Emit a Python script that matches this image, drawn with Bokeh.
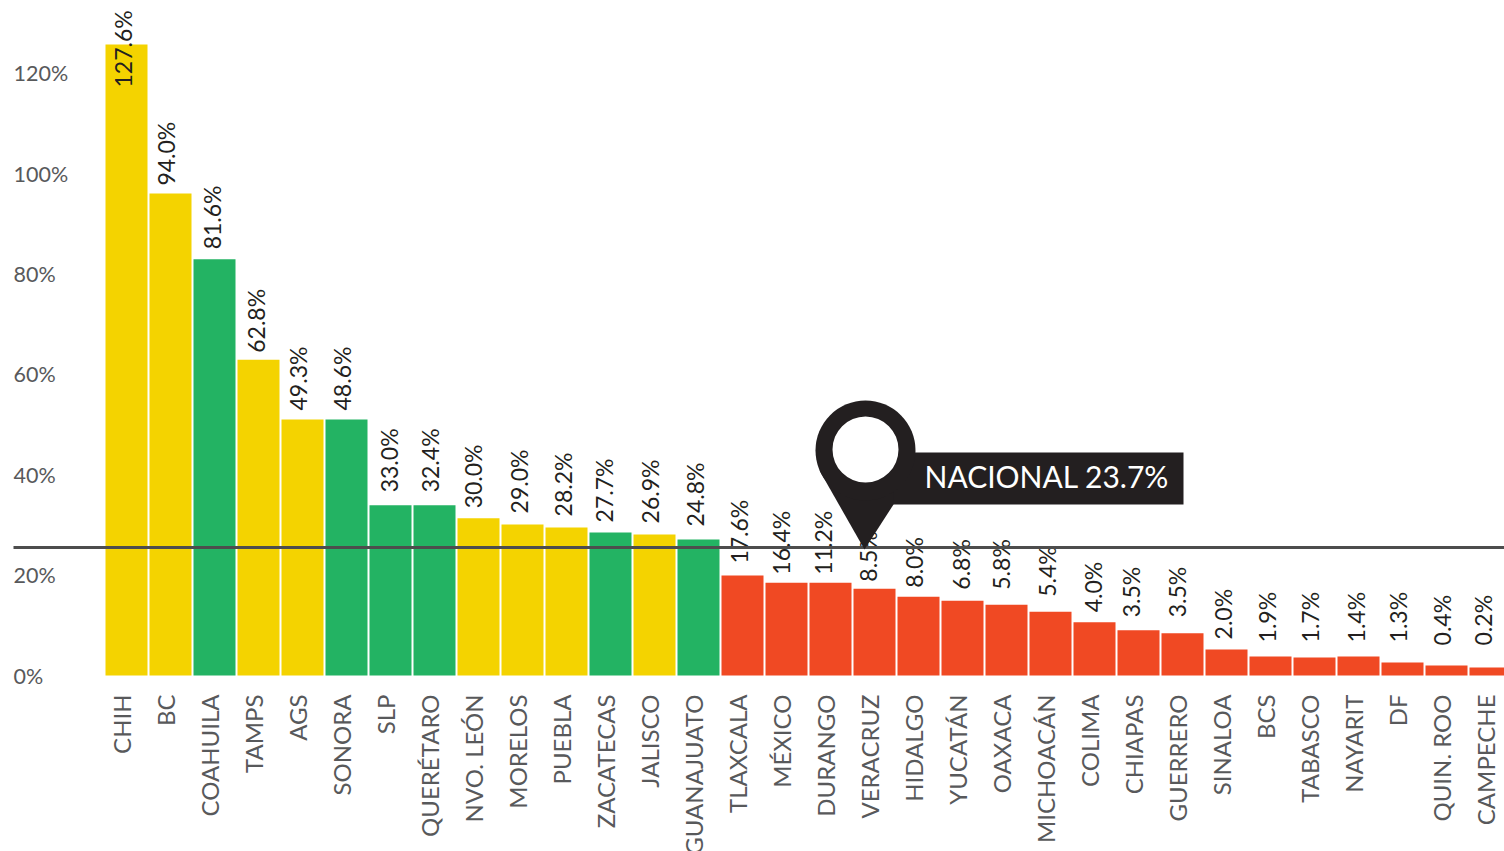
import math
from bokeh.plotting import figure
from bokeh.models import ColumnDataSource, Range1d
from bokeh.core.properties import value
from bokeh.embed import file_html
from bokeh.resources import INLINE

states = ["CHIH","BC","COAHUILA","TAMPS","AGS","SONORA","SLP","QUERÉTARO","NVO. LEÓN","MORELOS","PUEBLA","ZACATECAS","JALISCO","GUANAJUATO","TLAXCALA","MÉXICO","DURANGO","VERACRUZ","HIDALGO","YUCATÁN","OAXACA","MICHOACÁN","COLIMA","CHIAPAS","GUERRERO","SINALOA","BCS","TABASCO","NAYARIT","DF","QUIN. ROO","CAMPECHE"]
bar_values = [125.7,96.0,82.9,62.9,51.0,51.0,33.9,33.9,31.3,30.1,29.5,28.5,28.1,27.1,19.9,18.5,18.5,17.3,15.7,14.9,14.1,12.7,10.6,9.0,8.4,5.2,3.8,3.6,3.8,2.6,2.0,1.6]
value_labels = ["127.6%","94.0%","81.6%","62.8%","49.3%","48.6%","33.0%","32.4%","30.0%","29.0%","28.2%","27.7%","26.9%","24.8%","17.6%","16.4%","11.2%","8.5%","8.0%","6.8%","5.8%","5.4%","4.0%","3.5%","3.5%","2.0%","1.9%","1.7%","1.4%","1.3%","0.4%","0.2%"]
groups = ["y","y","g","y","y","g","g","g","y","y","y","g","y","g"] + ["r"]*18
label_dy = [43,-8,-10,-7,-9,-9,-13,-13,-10,-11,-11,-10,-11,-13,-12,-8,-8,-7,-9,-11,-15,-15,-10,-13,-16,-10,-14,-15,-14,-20,-20,-22]
label_dx = [-2,-3.5,-1.5,-1,-3,-3,0,-3,-4,-2,-2,-5,-3,-2,-2,-4,-6,-5,-3.5,0,-4,-2,0,-6,-4,-2,-2,-3,-1,-3,-3,-6]
y_ticks = [0,20,40,60,80,100,120]
y_tick_labels = ["0%","20%","40%","60%","80%","100%","120%"]
national_level = 25.5
national_text = "NACIONAL 23.7%"

palette = {"y":"#F4D300","g":"#23B363","r":"#F04923"}
FONT = "Lato"
W, H = 1504, 851
PX_X, PX_Y = 44.0, 5.02     # pixels per unit
X0, Y0 = 126.0, 675.0       # canvas position of bar 0 centre / of zero

def dx(page_x): return (page_x - X0) / PX_X
def dy(page_y): return (Y0 - page_y) / PX_Y

p = figure(width=W, height=H, output_backend="svg", toolbar_location=None,
           x_range=Range1d(dx(0), dx(W)), y_range=Range1d(dy(H), dy(0)),
           min_border=0, outline_line_color=None, background_fill_color="white", border_fill_color="white")
p.xaxis.visible = False
p.yaxis.visible = False
p.xgrid.visible = False
p.ygrid.visible = False

xs = list(range(len(states)))
src = ColumnDataSource(dict(x=xs, top=bar_values, color=[palette[g] for g in groups], state=states,
                            vl=value_labels, ldy=label_dy, ldx=[d - 1.5 for d in label_dx], zero=[0]*len(xs)))
p.vbar(x="x", top="top", bottom=0, width=42/PX_X, fill_color="color", line_color=None, source=src)

p.text(x="x", y="top", text="vl", source=src, angle=math.pi/2, text_align="left", text_baseline="middle",
       x_offset="ldx", y_offset="ldy", text_font=value(FONT), text_font_size="23px", text_color="#231F20")
p.text(x="x", y="zero", text="state", source=src, angle=math.pi/2, text_align="right", text_baseline="middle",
       x_offset=-5, y_offset=19, text_font=value(FONT), text_font_size="24px", text_color="#58595B")

tick_src = ColumnDataSource(dict(y=y_ticks, t=y_tick_labels, x=[dx(13)]*len(y_ticks)))
p.text(x="x", y="y", text="t", source=tick_src, text_align="left", text_baseline="middle",
       text_font=value(FONT), text_font_size="21.5px", text_color="#58595B")

p.line([dx(13), dx(1504)], [national_level]*2, line_color="#4D4D4D", line_width=3)

# pin
PIN = "#231F20"
p.quad(left=[dx(885)], right=[dx(1183)], top=[dy(452)], bottom=[dy(504)], fill_color=PIN, line_color=None)
p.patch([dx(819), dx(864), dx(893), dx(893)], [dy(470), dy(549), dy(504), dy(470)], fill_color=PIN, line_color=None)
p.scatter([dx(865)], [dy(450)], size=100, marker="circle", fill_color=PIN, line_color=None)
p.scatter([dx(865)], [dy(449)], size=66, marker="circle", fill_color="white", line_color=None)
p.text([dx(924)], [dy(475)], text=[national_text], text_align="left", text_baseline="middle",
       text_font=value(FONT), text_font_size="30px", text_color="white")

open("out.html", "w").write(file_html(p, INLINE))
